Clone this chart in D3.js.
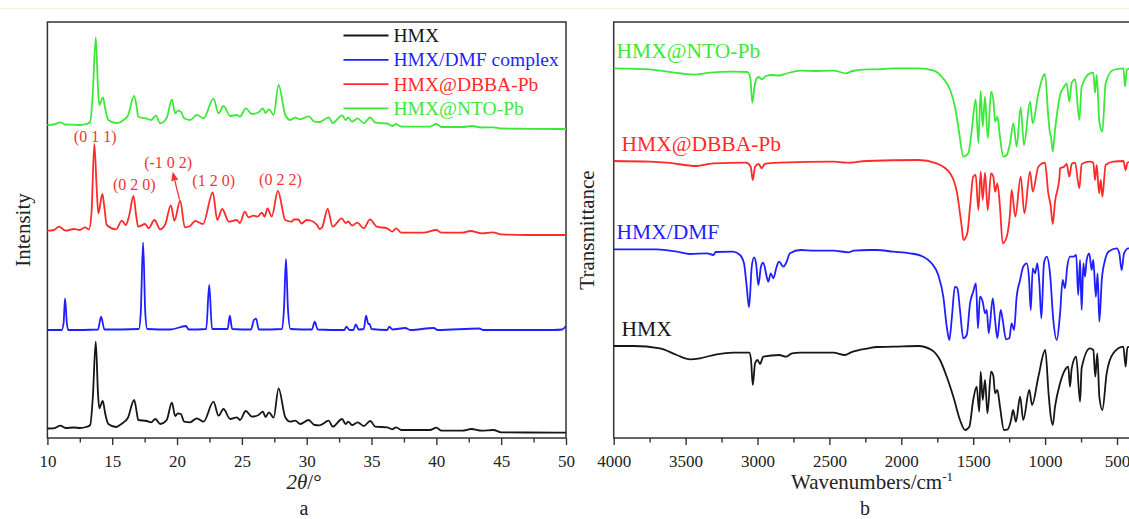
<!DOCTYPE html>
<html>
<head>
<meta charset="utf-8">
<script src="https://cdn.jsdelivr.net/npm/d3@7/dist/d3.min.js"></script>
<style>
  html, body { margin: 0; padding: 0; background: #fff; }
  svg { display: block; }
  text { font-family: "Liberation Serif", "Times New Roman", serif; }
</style>
</head>
<body>
<svg id="chart" width="1129" height="519"></svg>
<script>
// ---------- XRD patterns (2θ in degrees, stacked intensity in a.u.) ----------
const xrdHMX = [
  [10.0, 9.5], [10.5, 9.7], [11.0, 12.3], [11.4, 10], [12.05, 10.5], [12.5, 10], [13.0, 11], [13.3, 13],
  [13.5, 40], [13.73, 96.3], [13.9, 45], [14.0, 29.7], [14.27, 37], [14.45, 25], [14.7, 14], [15.3, 11],
  [15.6, 13], [15.86, 15.5], [16.2, 20], [16.69, 38], [16.9, 25], [17.0, 18], [17.67, 17], [18.0, 15.7],
  [18.33, 19], [18.7, 14], [19.2, 18], [19.6, 35.3], [19.86, 22], [20.06, 24.7], [20.29, 24], [20.55, 16.3],
  [21.0, 15.7], [21.53, 19.7], [22.04, 16.3], [22.81, 36.3], [23.2, 22.3], [23.58, 29], [24.1, 19],
  [24.62, 20.7], [24.85, 18], [25.3, 27], [25.77, 21.3], [26.29, 23], [26.62, 26.3], [26.83, 21],
  [27.09, 25.7], [27.45, 20.3], [27.83, 49.7], [28.35, 20.7], [28.73, 16.3], [29.12, 17.3], [29.5, 14],
  [30.15, 18], [30.6, 13], [31.0, 12.7], [31.7, 17.3], [32.0, 11.3], [32.73, 19], [33.0, 14], [33.2, 16.3],
  [33.5, 13], [33.93, 15.7], [34.4, 12], [34.9, 17], [35.3, 11.3], [36.2, 10.7], [36.6, 8.7], [36.9, 10.7],
  [37.3, 8], [38.5, 8], [39.5, 8], [40.0, 10.3], [40.4, 7.3], [42.0, 7.3], [42.7, 9], [43.5, 7.3],
  [44.4, 8], [45.0, 5.7], [47.0, 5.5], [50.0, 5.3]
];
const xrdDMF = [
  [10.0, 108], [11.1, 108], [11.25, 115], [11.36, 139.7], [11.5, 115], [11.6, 108], [13.9, 108.5],
  [14.14, 121.3], [14.4, 108.5], [17.05, 109], [17.2, 125], [17.38, 195.7], [17.55, 125], [17.7, 109],
  [19.5, 108.5], [20.68, 112], [20.9, 108.5], [22.25, 109], [22.48, 153], [22.7, 109], [23.9, 109],
  [24.07, 122.3], [24.25, 109], [25.7, 108.5], [25.93, 118], [26.1, 119.3], [26.3, 108.5], [28.1, 109],
  [28.25, 130], [28.4, 179], [28.55, 130], [28.75, 109], [30.4, 108.5], [30.62, 116.3], [30.85, 108.5],
  [32.9, 108], [33.06, 111.3], [33.3, 108], [33.6, 108], [33.78, 113.7], [34.0, 108.5], [34.4, 109],
  [34.58, 122.3], [34.75, 114], [34.85, 114], [35.0, 109], [36.2, 108], [36.38, 111.3], [36.6, 108.5],
  [37.6, 110], [38.0, 108], [39.8, 110], [40.1, 108], [43.33, 109.5], [43.6, 108], [49.0, 108],
  [49.7, 108.5], [50.0, 112]
];
const xrdDBBA = [
  [10.0, 207.3], [10.5, 208], [10.9, 211.3], [11.4, 207.3], [12.05, 209], [12.5, 208], [12.9, 210.7],
  [13.2, 208.5], [13.4, 225], [13.62, 294], [13.8, 250], [13.93, 224.7], [14.24, 244], [14.4, 230],
  [14.58, 213], [15.3, 208.7], [15.74, 217.3], [16.05, 213], [16.3, 222], [16.64, 242], [16.85, 222],
  [17.0, 211.3], [17.54, 214], [17.8, 209.7], [18.26, 218], [18.7, 208.7], [19.1, 214], [19.52, 232.7],
  [19.8, 217.3], [20.24, 237.3], [20.6, 210.7], [21.0, 212], [21.4, 217], [22.0, 214], [22.76, 245.7],
  [23.1, 218], [23.48, 229], [24.0, 216.3], [24.6, 218], [24.85, 215], [25.23, 226.3], [25.5, 220.7],
  [25.9, 222.3], [26.2, 221.3], [26.55, 225.3], [26.75, 221.3], [26.98, 229.7], [27.3, 221.3],
  [27.78, 247], [28.35, 218], [28.85, 216.3], [29.0, 218.5], [29.35, 218.5], [29.6, 214.5], [30.0, 218],
  [30.3, 217.5], [30.8, 213], [31.0, 209], [31.2, 211], [31.62, 229], [32.0, 211.3], [32.7, 219.7],
  [33.0, 215], [33.2, 216.5], [33.5, 212.5], [33.9, 215.3], [34.4, 209.7], [34.88, 218.7], [35.4, 211.3],
  [36.2, 209.7], [36.6, 206.3], [36.9, 209.7], [37.3, 205.3], [39.0, 205.3], [40.0, 208], [40.4, 205.3],
  [42.0, 205.3], [42.63, 207], [43.5, 204.7], [44.36, 205.7], [45.0, 203.7], [47.0, 203], [50.0, 203]
];
const xrdNTO = [
  [10.0, 313], [10.5, 313.5], [11.0, 315.7], [11.4, 313.5], [12.0, 313.3], [12.5, 313], [13.0, 314],
  [13.3, 316], [13.5, 345], [13.73, 400.7], [13.9, 350], [14.0, 333], [14.29, 340.7], [14.45, 330],
  [14.7, 318], [15.3, 315], [15.6, 315.7], [15.86, 318], [16.2, 322], [16.69, 342], [16.9, 330],
  [17.0, 321.3], [17.67, 319.3], [18.0, 318], [18.36, 322.3], [18.7, 314.7], [19.2, 320], [19.6, 338.7],
  [19.86, 324.7], [20.06, 327.3], [20.29, 326.3], [20.55, 319.7], [21.0, 318], [21.53, 323],
  [22.04, 319.7], [22.81, 339.3], [23.2, 324.7], [23.58, 332], [24.1, 322], [24.62, 323], [24.85, 321.3],
  [25.3, 329.7], [25.77, 324], [26.29, 325.7], [26.62, 329.7], [26.83, 325], [27.09, 328.7],
  [27.45, 323], [27.83, 353], [28.35, 323], [28.73, 318], [29.12, 320.3], [29.5, 318.7], [30.15, 321.7],
  [30.6, 316.3], [31.0, 316], [31.7, 320.7], [32.0, 315], [32.73, 322.7], [33.0, 318], [33.2, 320.5],
  [33.5, 316.3], [33.93, 319.7], [34.4, 314.7], [34.9, 320.7], [35.3, 315.3], [36.2, 314.5], [36.6, 312],
  [36.9, 314], [37.3, 311.3], [38.5, 311.3], [39.5, 311.3], [40.0, 314], [40.4, 311], [42.0, 311],
  [42.76, 312], [43.5, 310.5], [44.4, 310.7], [45.0, 309.5], [47.0, 309.2], [50.0, 309]
];

// Miller indices of the labelled HMX@DBBA-Pb reflections (2θ, label)
const hklPeaks = [13.62, 16.64, 20.24, 22.76, 27.78];
const hklLabels = ["(0 1 1)", "(0 2 0)", "(-1 0 2)", "(1 2 0)", "(0 2 2)"];

// ---------- FTIR spectra (wavenumber in cm-1, stacked transmittance in a.u.) ----------
const ftirHMX = [
  [4000, 92], [3864, 92], [3678, 89.7], [3562, 83], [3469, 78.7], [3400, 79.7], [3284, 83.7], [3168, 85.3],
  [3057, 85.3], [3045, 78], [3033, 53], [3017, 74.7], [3000, 78], [2982, 74], [2960, 81.3], [2848, 83],
  [2802, 81.3], [2760, 84.7], [2704, 85.3], [2473, 85.3], [2392, 83], [2350, 85.7], [2229, 89.7],
  [2171, 91], [2056, 91.3], [1882, 92], [1789, 88], [1731, 78], [1684, 61.3], [1638, 41.3], [1592, 18],
  [1557, 8], [1527, 11.3], [1500, 38], [1476, 51.3], [1458, 26.3], [1448, 66.3], [1434, 38], [1418, 58],
  [1401, 24.7], [1376, 66.3], [1360, 62], [1348, 44.7], [1332, 48], [1314, 31.3], [1286, 8], [1260, 8.7],
  [1237, 18], [1223, 28], [1203, 16.3], [1174, 41.3], [1152, 18], [1110, 48], [1091, 33], [1047, 61.3],
  [999, 88], [976, 44.7], [962, 23], [947, 13], [931, 31.3], [896, 54.7], [862, 68], [839, 71.3],
  [827, 51.3], [815, 69.7], [784, 81.3], [757, 36.3], [746, 70], [688, 89.7], [665, 88], [651, 61.3],
  [637, 84.7], [623, 41.3], [602, 28], [572, 64.7], [526, 84.7], [456, 91.3], [440, 71.3], [428, 90.7],
  [400, 91.3]
];
const ftirDMF = [
  [4000, 188.7], [3700, 188.7], [3560, 186.3], [3470, 184], [3350, 184.7], [3307, 183], [3290, 186],
  [3170, 186.3], [3122, 183], [3094, 174.7], [3075, 151.3], [3059, 130.7], [3040, 171.3], [3024, 180.7],
  [3010, 174.7], [2994, 153], [2976, 171.3], [2960, 175.3], [2936, 161.3], [2925, 156.3], [2908, 164.7],
  [2890, 159.7], [2867, 171.3], [2850, 176.3], [2820, 171.3], [2802, 174.7], [2774, 184.7], [2700, 188],
  [2600, 187.3], [2470, 187.3], [2368, 185.7], [2330, 187.3], [2220, 188], [2171, 188], [2056, 186.3],
  [1940, 184.7], [1847, 181.3], [1789, 174.7], [1743, 163], [1708, 141.3], [1684, 111.3], [1666, 98],
  [1650, 118], [1627, 151.3], [1610, 149.7], [1592, 128], [1569, 99.7], [1545, 103], [1522, 134.7],
  [1500, 146.3], [1481, 154.7], [1467, 109.7], [1453, 141.3], [1434, 136.3], [1418, 124.7], [1406, 128],
  [1392, 104.7], [1364, 139.7], [1348, 118], [1332, 99.7], [1309, 128], [1295, 118], [1272, 98.7],
  [1249, 99.7], [1233, 114.7], [1216, 108], [1198, 141.3], [1174, 158], [1152, 171.3], [1128, 174.7],
  [1112, 159.7], [1100, 128], [1086, 169.7], [1070, 164.7], [1054, 174.7], [1040, 154.7], [1026, 119.7],
  [1008, 174.7], [989, 181.3], [966, 164.7], [943, 118], [919, 98], [896, 124.7], [878, 158], [862, 149.7],
  [846, 171.3], [827, 181.3], [803, 181.3], [784, 183], [770, 143], [757, 178], [746, 128], [734, 174.7],
  [723, 161.3], [711, 178], [693, 184.7], [676, 168], [665, 178], [647, 141.3], [635, 164.7], [623, 116.3],
  [606, 158], [583, 178], [560, 186.3], [502, 189.7], [484, 184.7], [468, 168], [451, 184.7], [421, 189.7],
  [400, 189.7]
];
const ftirDBBA = [
  [4000, 277], [3750, 276.3], [3630, 275.3], [3425, 272], [3310, 274.7], [3080, 275.3], [3047, 271.3],
  [3033, 258], [3017, 271.3], [2992, 274], [2971, 269.7], [2950, 274], [2850, 275.3], [2470, 276.3],
  [2385, 275.3], [2240, 277], [1882, 278], [1755, 274.7], [1661, 264.7], [1612, 244.7], [1580, 211.3],
  [1568, 198], [1541, 204.7], [1522, 231.3], [1500, 261.3], [1483, 263], [1464, 228], [1448, 266.3],
  [1434, 238], [1418, 265.3], [1399, 228], [1376, 264.7], [1360, 261.3], [1348, 246.3], [1332, 254.7],
  [1314, 231.3], [1295, 194.7], [1267, 201.3], [1244, 224.7], [1233, 248], [1207, 221.3], [1170, 261.3],
  [1144, 224.7], [1105, 266.3], [1086, 246.3], [1047, 271.3], [1001, 275.3], [978, 244.7], [962, 233],
  [947, 214], [931, 236.3], [900, 261.3], [896, 269.7], [868, 271.3], [850, 274], [832, 261.3], [815, 274],
  [792, 275.3], [762, 249.7], [746, 274], [688, 276.3], [665, 275.3], [653, 258], [641, 273], [625, 244.7],
  [613, 258], [602, 241.3], [579, 273], [526, 276.3], [456, 277], [440, 268], [428, 275.3], [400, 276.3]
];
const ftirNTO = [
  [4000, 369.7], [3750, 368.7], [3630, 366.3], [3530, 364.5], [3440, 363.3], [3330, 365.3], [3170, 366.3],
  [3070, 366], [3050, 360], [3036, 335.3], [3020, 352], [3006, 359.7], [2990, 361], [2971, 358.7],
  [2940, 362], [2900, 363], [2850, 362.5], [2800, 364.5], [2700, 367.3], [2600, 367], [2470, 367.3],
  [2385, 364.7], [2340, 367], [2240, 368.7], [2170, 368.7], [2060, 369.7], [1880, 369.7], [1775, 367.3],
  [1710, 359.7], [1660, 348], [1627, 331.3], [1597, 304.7], [1569, 281.3], [1534, 284.7], [1510, 308],
  [1483, 338.7], [1464, 295.3], [1448, 347.3], [1434, 311.3], [1418, 341.3], [1399, 299.7], [1376, 346.3],
  [1360, 338], [1348, 316.3], [1332, 321.3], [1314, 301.3], [1291, 281.3], [1267, 283], [1244, 294.7],
  [1221, 314.7], [1198, 291.3], [1170, 330.7], [1147, 293], [1105, 336.3], [1086, 314.7], [1047, 344.7],
  [1001, 364], [978, 321.3], [966, 304.7], [959, 301], [947, 286.3], [931, 308], [896, 343], [868, 351.3],
  [850, 354.7], [832, 336.3], [815, 355.3], [792, 358.7], [762, 318], [746, 351.3], [688, 364.7],
  [665, 365.3], [653, 345], [641, 363], [623, 316.3], [602, 306.3], [579, 354.7], [526, 368], [456, 369.7],
  [444, 351.3], [432, 368], [409, 369.7], [400, 369.7]
];

// Series names and tick values
const xrdNames = ["HMX", "HMX/DMF complex", "HMX@DBBA-Pb", "HMX@NTO-Pb"];
const ftirNames = ["HMX", "HMX/DMF", "HMX@DBBA-Pb", "HMX@NTO-Pb"];
const xrdMajorTicks = [10, 15, 20, 25, 30, 35, 40, 45, 50];
const xrdMinorTicks = [12.5, 17.5, 22.5, 27.5, 32.5, 37.5, 42.5, 47.5];
const ftirMajorTicks = [4000, 3500, 3000, 2500, 2000, 1500, 1000, 500];
const ftirMinorTicks = [3750, 3250, 2750, 2250, 1750, 1250, 750];

// ---------- drawing ----------
const colors = ["#161616", "#1f1fff", "#ff2b2b", "#3de83a"];
const svg = d3.select("#chart");

svg.append("line").attr("x1", 0).attr("x2", 1129).attr("y1", 8.5).attr("y2", 8.5)
  .attr("stroke", "#f3f3d6").attr("stroke-width", 1);

const plotTop = 22, plotBottom = 438;
const yA = d3.scaleLinear().domain([0, 416]).range([plotBottom, plotTop]);

function panel(x, majors, minors, fmt) {
  const g = svg.append("g");
  const [x0, x1] = x.range();
  g.append("rect").attr("x", x0).attr("y", plotTop).attr("width", x1 - x0).attr("height", plotBottom - plotTop)
    .attr("fill", "none").attr("stroke", "#333").attr("stroke-width", 1.5);
  const minorAxis = d3.axisBottom(x).tickValues(minors).tickSize(4.5).tickFormat("");
  g.append("g").attr("transform", `translate(0,${plotBottom})`).call(minorAxis)
    .call(s => s.select(".domain").remove())
    .selectAll("line").attr("stroke", "#333").attr("stroke-width", 1.4);
  const majorAxis = d3.axisBottom(x).tickValues(majors).tickSize(7).tickPadding(10).tickFormat(fmt);
  const ax = g.append("g").attr("transform", `translate(0,${plotBottom})`).call(majorAxis);
  ax.select(".domain").remove();
  ax.selectAll("line").attr("stroke", "#333").attr("stroke-width", 1.4);
  ax.selectAll("text").attr("font-size", 17).attr("fill", "#222")
    .attr("font-family", "'Liberation Serif', 'Times New Roman', serif");
  return g;
}

// Panel a: XRD
const xA = d3.scaleLinear().domain([10, 50]).range([47.4, 566]);
const gA = panel(xA, xrdMajorTicks, xrdMinorTicks, d3.format("d"));
const lineA = d3.line().x(d => xA(d[0])).y(d => yA(d[1])).curve(d3.curveMonotoneX);
[xrdHMX, xrdDMF, xrdDBBA, xrdNTO].forEach((s, i) => {
  gA.append("path").datum(s).attr("d", lineA).attr("fill", "none")
    .attr("stroke", colors[i]).attr("stroke-width", 1.8).attr("stroke-linejoin", "round");
});

// Legend
const leg = gA.append("g");
xrdNames.forEach((n, i) => {
  const y = 35.5 + i * 24.3;
  leg.append("line").attr("x1", 343.5).attr("x2", 388.5).attr("y1", y).attr("y2", y)
    .attr("stroke", colors[i]).attr("stroke-width", 1.8);
  leg.append("text").attr("x", 393.5).attr("y", y + 6.5).attr("font-size", 19.5)
    .attr("fill", colors[i]).text(n);
});

// Reflection labels on the HMX@DBBA-Pb pattern
const peakValue = t => xrdDBBA.find(d => d[0] === t)[1];
const annColor = "#ef3535";
hklPeaks.forEach((t, i) => {
  const px = xA(t), py = yA(peakValue(t));
  if (hklLabels[i] === "(-1 0 2)") {
    const tx = px - 12, ty = py - 32.5;
    gA.append("text").attr("x", tx).attr("y", ty).attr("text-anchor", "middle")
      .attr("font-size", 16).attr("fill", annColor).text(hklLabels[i]);
    const ax1 = px - 0.7, ay1 = py - 1, ax2 = px - 7.5, ay2 = py - 29;
    const ang = Math.atan2(ay2 - ay1, ax2 - ax1);
    const hl = 9, hw = 3.6;
    const bx = ax2 - hl * Math.cos(ang), by = ay2 - hl * Math.sin(ang);
    gA.append("line").attr("x1", ax1).attr("y1", ay1).attr("x2", bx).attr("y2", by)
      .attr("stroke", annColor).attr("stroke-width", 1.3);
    gA.append("path").attr("fill", annColor).attr("d",
      `M${ax2},${ay2}L${bx + hw * Math.sin(ang)},${by - hw * Math.cos(ang)}L${bx - hw * Math.sin(ang)},${by + hw * Math.cos(ang)}Z`);
  } else {
    gA.append("text").attr("x", px + (i === 4 ? 2.5 : 0.8)).attr("y", py - (i === 0 ? 2.5 : 6))
      .attr("text-anchor", "middle").attr("font-size", 16).attr("fill", annColor).text(hklLabels[i]);
  }
});

// Axis titles, panel a
svg.append("text").attr("transform", "translate(29.5,230) rotate(-90)").attr("text-anchor", "middle")
  .attr("font-size", 21).attr("fill", "#222").text("Intensity");
const xt = svg.append("text").attr("x", 304).attr("y", 489).attr("text-anchor", "middle")
  .attr("font-size", 21).attr("fill", "#222");
xt.append("tspan").attr("font-style", "italic").text("2θ");
xt.append("tspan").text("/°");
svg.append("text").attr("x", 304).attr("y", 514.5).attr("text-anchor", "middle")
  .attr("font-size", 20).attr("fill", "#222").text("a");

// Panel b: FTIR
const xB = d3.scaleLinear().domain([4000, 400]).range([613.7, 1131.4]);
const gB = panel(xB, ftirMajorTicks, ftirMinorTicks, d3.format("d"));
const lineB = d3.line().x(d => xB(d[0])).y(d => yA(d[1])).curve(d3.curveMonotoneX);
[ftirHMX, ftirDMF, ftirDBBA, ftirNTO].forEach((s, i) => {
  gB.append("path").datum(s).attr("d", lineB).attr("fill", "none")
    .attr("stroke", colors[i]).attr("stroke-width", 1.8).attr("stroke-linejoin", "round");
});
// Series names beside each spectrum
const ftirLabelX = [621.5, 616.5, 621.5, 616.5];
ftirNames.forEach((n, i) => {
  const s = [ftirHMX, ftirDMF, ftirDBBA, ftirNTO][i];
  gB.append("text").attr("x", ftirLabelX[i]).attr("y", yA(s[0][1]) - 10)
    .attr("font-size", 21.5).attr("fill", colors[i]).text(n);
});

svg.append("text").attr("transform", "translate(594,230) rotate(-90)").attr("text-anchor", "middle")
  .attr("font-size", 21).attr("fill", "#222").text("Transmittance");
const xtb = svg.append("text").attr("x", 872).attr("y", 489).attr("text-anchor", "middle")
  .attr("font-size", 21).attr("fill", "#222");
xtb.append("tspan").text("Wavenumbers/cm");
xtb.append("tspan").attr("font-size", 13).attr("dy", -8).text("-1");
svg.append("text").attr("x", 865).attr("y", 514.5).attr("text-anchor", "middle")
  .attr("font-size", 20).attr("fill", "#222").text("b");
</script>
</body>
</html>
